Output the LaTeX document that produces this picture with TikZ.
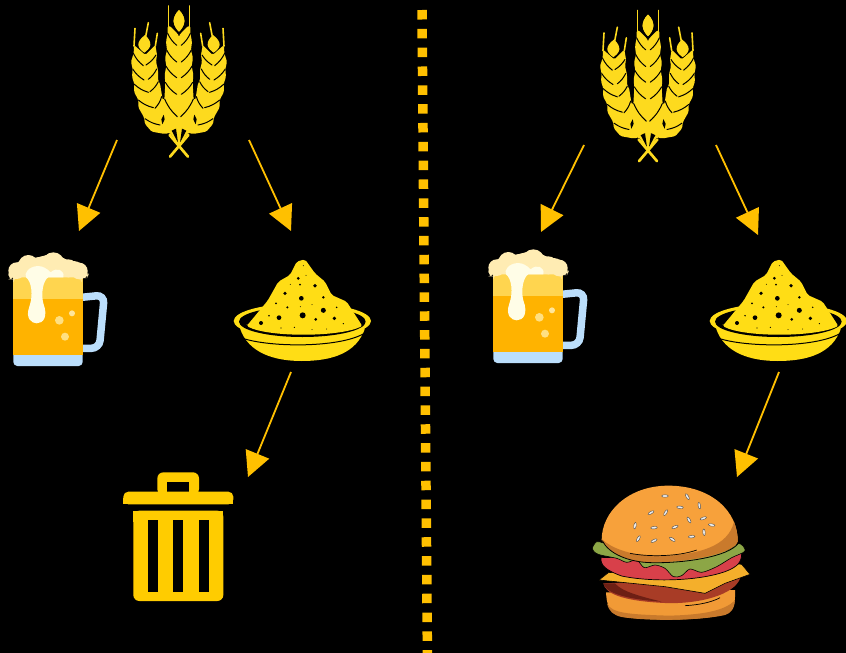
\documentclass[tikz,border=0pt]{standalone}
\usetikzlibrary{arrows.meta}
\definecolor{amberc}{HTML}{FFC000}
\definecolor{wheatc}{HTML}{FDDA1E}
\definecolor{bowlc}{HTML}{FFDD15}
\definecolor{binc}{HTML}{FFCC00}
\definecolor{beerlight}{HTML}{FFD54F}
\definecolor{beermain}{HTML}{FFB300}
\definecolor{beerblue}{HTML}{BBDEFB}
\definecolor{foamc}{HTML}{FFECB3}
\definecolor{dripc}{HTML}{FFFDE7}
\definecolor{bubc}{HTML}{FFE082}
\definecolor{bunc}{HTML}{F7A13B}
\definecolor{bunshade}{HTML}{C97A2C}
\definecolor{lowbun}{HTML}{F19A36}
\definecolor{lettc}{HTML}{8CA646}
\definecolor{tomc}{HTML}{D8404A}
\definecolor{chec}{HTML}{F4AF2B}
\definecolor{patc}{HTML}{A83C26}
\definecolor{patd}{HTML}{6D1F14}
\tikzset{
  link/.style={draw=amberc,line width=1.8pt,-{Triangle[length=25pt,width=25pt,fill=amberc]}},
  zoomed/.style={x=0.33333pt,y=-0.33333pt},
  awn/.style={draw=wheatc,line width=1.6pt,line cap=round},
  slit/.style={draw=black,line width=1pt,line cap=round},
}
\newcommand{\wheathalf}{%
  \fill[wheatc,rounded corners=1.5pt] (177,106) -- (150,78) -- (143,78) -- (143,100) -- (138,125) -- (141,150) -- (135,175) -- (139,197) -- (134,225) -- (136,250) -- (133,300) -- (128,300) -- (120,250) -- (114,242) -- (114,210) -- (108,185) -- (111,165) -- (106,135) -- (76,165) -- (42,135) -- (41,160) -- (33,185) -- (38,208) -- (36,230) -- (43,252) -- (42,275) -- (55,300) -- (55,322) -- (72,352) -- (75,372) -- (95,395) -- (135,402) -- (150,398) -- (177,440) -- cycle;
  \draw[awn] (145,80) -- (145,18);
  \draw[awn] (42,138) -- (45,85);
  \draw[awn] (106,138) -- (112,100);
  \draw[awn] (76,115) -- (85,68);
  \fill[wheatc] (177,30) .. controls (165,42) and (160,55) .. (161,65) .. controls (162,78) and (170,88) .. (177,95) .. controls (184,88) and (192,78) .. (193,65) .. controls (194,55) and (189,42) .. (177,30) -- cycle;
  \fill[wheatc] (75,105) .. controls (62,115) and (54,125) .. (55,135) .. controls (56,145) and (66,153) .. (73,158) .. controls (80,153) and (90,145) .. (91,135) .. controls (92,125) and (86,115) .. (75,105) -- cycle;
  \foreach \a/\b in {143/100,140/150,137/197,136/247}{
    \draw[slit] (\a,\b) to[bend right=12] (170,\b+36);
  }
  \draw[slit] (134,297) to[bend right=12] (172,350);
  \draw[slit] (40,160) to[bend right=12] (70,197);
  \draw[slit] (38,207) to[bend right=12] (72,240);
  \draw[slit] (42,252) to[bend right=12] (85,277);
  \draw[slit] (55,300) to[bend right=12] (100,323);
  \draw[slit] (75,356) to[bend right=12] (120,375);
  \draw[slit] (108,165) to[bend left=12] (78,195);
  \draw[slit] (110,207) to[bend left=12] (85,238);
  \draw[slit] (115,245) to[bend left=12] (90,275);
  \draw[slit] (125,290) to[bend left=12] (105,325);
  \fill[black] (131,344) -- (124,358) -- (127,373) -- (134,358) -- cycle;
  \fill[black] (155,392) -- (168,386) -- (174,428) -- cycle;
}
\newcommand{\wheatarm}{\draw[draw=wheatc,line width=2.7pt,line cap=round] (150,470) -- (205,405);}
\newcommand{\wheatpic}[2]{%
  \begin{scope}[shift={(#1,#2)},zoomed]
    \wheathalf
    \begin{scope}[shift={(354,0)},xscale=-1]\wheathalf\end{scope}
    \wheatarm
    \begin{scope}[shift={(354,0)},xscale=-1]\wheatarm\end{scope}
  \end{scope}
}
\newcommand{\beerpic}[2]{%
  \begin{scope}[shift={(#1,#2)},zoomed]
    \draw[beerblue,line width=7.5pt,rounded corners=8pt] (245,172) -- (313,165) -- (298,325) -- (245,325);
    \fill[beerblue,rounded corners=4pt] (40,330) rectangle (248,378);
    \fill[beermain] (40,170) rectangle (248,345);
    \fill[beerlight] (40,105) rectangle (248,178);
    \fill[foamc,rounded corners=5pt] (25,118) -- (25,92) -- (60,60) -- (125,50) -- (160,38) -- (205,62) -- (240,65) -- (267,100) -- (262,114) -- (245,114) -- (245,112) -- (40,112) -- (40,118) -- cycle;
    \fill[foamc] (50,92) circle[radius=25];
    \fill[foamc] (85,75) circle[radius=30];
    \fill[foamc] (125,80) circle[radius=30];
    \fill[foamc] (160,70) circle[radius=33];
    \fill[foamc] (205,85) circle[radius=27];
    \fill[foamc] (238,93) circle[radius=25];
    \fill[dripc] (113,78) .. controls (85,80) and (72,100) .. (78,112) .. controls (95,125) and (100,165) .. (88,200) .. controls (75,235) and (95,250) .. (110,250) .. controls (130,250) and (145,230) .. (130,190) .. controls (122,160) and (130,120) .. (145,112) -- (190,112) .. controls (195,90) and (170,80) .. (152,97) .. controls (140,85) and (128,78) .. (113,78) -- cycle;
    \fill[bubc!80!white] (216,220) circle[radius=9];
    \fill[bubc] (178,241) circle[radius=13];
    \fill[bubc] (195,290) circle[radius=12];
  \end{scope}
}
\newcommand{\bowlpic}[2]{%
  \begin{scope}[shift={(#1,#2)},zoomed]
    \fill[bowlc] (45,235) .. controls (70,310) and (150,333) .. (230,333) .. controls (320,333) and (395,310) .. (420,235) -- cycle;
    \fill[bowlc] (232,213) ellipse[x radius=206,y radius=53];
    \fill[black] (232,215) ellipse[x radius=190,y radius=46];
    \draw[black,line width=1pt,line cap=round] (45,262) .. controls (120,292) and (340,296) .. (418,250);
    \fill[bowlc,rounded corners=2pt] (65,228) -- (128,152) -- (160,95) -- (195,75) -- (215,35) -- (240,28) -- (270,70) -- (300,95) -- (320,135) -- (365,155) -- (412,228) .. controls (340,262) and (130,262) .. (65,228) -- cycle;
    \foreach \x/\y/\r in {235/47/1.5,220/85/4.5,243/76/1.5,270/107/5.5,225/104/3,196/103/1.5,180/130/5.5,295/142/4,229/145/7,153/160/3,187/172/3.5,226/170/1.5,261/164/1.5,335/172/2.5,295/181/7.5,233/196/9,162/203/7,132/197/2.5,272/208/4.5,328/205/5.5,108/219/6,208/232/2,168/234/2,355/221/2,261/239/1.5,305/237/1.5}{
      \fill[black] (\x,\y) circle[radius=\r];
    }
  \end{scope}
}
\begin{document}
\begin{tikzpicture}[x=1pt,y=-1pt]
\useasboundingbox (0,0) rectangle (846,653);
\fill[black] (0,0) rectangle (846,653);
% divider
\coordinate (divtop) at (422,10);
\coordinate (divbot) at (427.4,653);
\draw[amberc,line width=9.5pt,dash pattern=on 9.5pt off 9.33pt] (divtop) -- (divbot);
% icons
\wheatpic{120}{0}
\wheatpic{589}{4.5}
\beerpic{0}{240}
\beerpic{480}{237}
\bowlpic{225}{250}
\bowlpic{701}{250}
% trash
\begin{scope}[shift={(115,465)},zoomed]
  \fill[binc,rounded corners=6pt] (127,90) -- (127,22) -- (252,22) -- (252,90) -- cycle;
  \fill[black] (157,50) rectangle (222,80);
  \fill[binc,rounded corners=5pt] (25,118) -- (25,80) -- (355,80) -- (355,118) -- cycle;
  \fill[binc] (25,100) rectangle (355,118);
  \fill[binc,rounded corners=6pt] (55,137) -- (55,408) -- (325,408) -- (325,137) -- cycle;
  \fill[binc] (55,137) rectangle (325,170);
  \foreach \a/\b in {98/128,175/205,253/282}{\fill[black] (\a,166) rectangle (\b,380);}
\end{scope}
% burger
\begin{scope}[shift={(585,475)},zoomed]
  \fill[lowbun] (63,352) .. controls (65,385) and (70,415) .. (110,425) .. controls (200,438) and (340,438) .. (420,418) .. controls (445,410) and (452,385) .. (450,345) -- cycle;
  \fill[bunshade] (66,385) .. controls (80,415) and (130,418) .. (250,422) .. controls (340,420) and (420,410) .. (450,375) .. controls (448,405) and (435,415) .. (420,420) .. controls (340,438) and (180,438) .. (110,426) .. controls (85,420) and (72,410) .. (66,385) -- cycle;
  \fill[patc] (55,325) .. controls (60,355) and (110,378) .. (240,384) .. controls (340,388) and (450,360) .. (466,308) -- cycle;
  \fill[patd] (55,325) .. controls (60,350) and (110,372) .. (230,380) .. controls (170,365) and (110,350) .. (90,325) -- cycle;
  \draw[black,line width=0.7pt] (300,392) .. controls (340,390) and (380,382) .. (405,368);
  \fill[chec,draw=black,line width=0.6pt] (42,315) -- (70,293) -- (440,265) -- (470,268) -- (495,298) -- (420,325) -- (360,355) -- (240,335) -- cycle;
  \fill[tomc,draw=black,line width=0.7pt] (48,248) .. controls (46,270) and (60,285) .. (110,303) .. controls (200,322) and (340,318) .. (420,290) .. controls (460,275) and (470,260) .. (470,235) -- cycle;
  \fill[lettc,draw=black,line width=0.6pt] plot[smooth cycle,tension=0.5] coordinates {(22,222) (35,200) (60,205) (150,225) (400,230) (460,205) (480,228) (440,248) (395,275) (350,292) (315,282) (290,302) (265,305) (240,280) (210,270) (178,278) (155,255) (125,262) (95,250) (40,238)};
  \fill[bunc] (50,195) .. controls (50,110) and (130,32) .. (250,32) .. controls (380,32) and (460,110) .. (458,200) .. controls (440,240) and (300,262) .. (200,262) .. controls (130,262) and (70,235) .. (50,195) -- cycle;
  \fill[bunshade] (50,192) .. controls (90,230) and (170,247) .. (250,242) .. controls (340,236) and (430,215) .. (447,140) .. controls (454,160) and (459,180) .. (458,200) .. controls (440,240) and (300,262) .. (200,262) .. controls (130,262) and (70,235) .. (50,192) -- cycle;
  \draw[black,line width=0.7pt] (135,235) .. controls (190,246) and (280,245) .. (335,225);
  \draw[black,line width=0.8pt] (52,197) .. controls (70,235) and (130,262) .. (200,263) .. controls (300,265) and (430,245) .. (460,205);
  \foreach \x/\y/\a in {240/63/0,307/65/60,285/97/5,343/92/80,198/113/-30,242/113/-60,312/135/60,355/130/-20,380/150/10,150/152/-80,207/158/-5,270/156/-20,357/172/85,160/191/-60,207/197/-25,262/193/35,320/185/-5}{
    \fill[white!85!gray,draw=black!70,line width=0.4pt,rotate around={-\a:(\x,\y)}] (\x,\y) ellipse[x radius=10,y radius=3.8];
  }
\end{scope}
% connectors
\coordinate (a1) at (117,140); \coordinate (b1) at (79,231);
\coordinate (a2) at (249,140); \coordinate (b2) at (291,231);
\coordinate (a3) at (291,372); \coordinate (b3) at (248,477);
\coordinate (a4) at (584,145); \coordinate (b4) at (541,232);
\coordinate (a5) at (716,145); \coordinate (b5) at (758,235);
\coordinate (a6) at (779,372); \coordinate (b6) at (737,477);
\draw[link] (a1) -- (b1);
\draw[link] (a2) -- (b2);
\draw[link] (a3) -- (b3);
\draw[link] (a4) -- (b4);
\draw[link] (a5) -- (b5);
\draw[link] (a6) -- (b6);
\end{tikzpicture}
\end{document}
